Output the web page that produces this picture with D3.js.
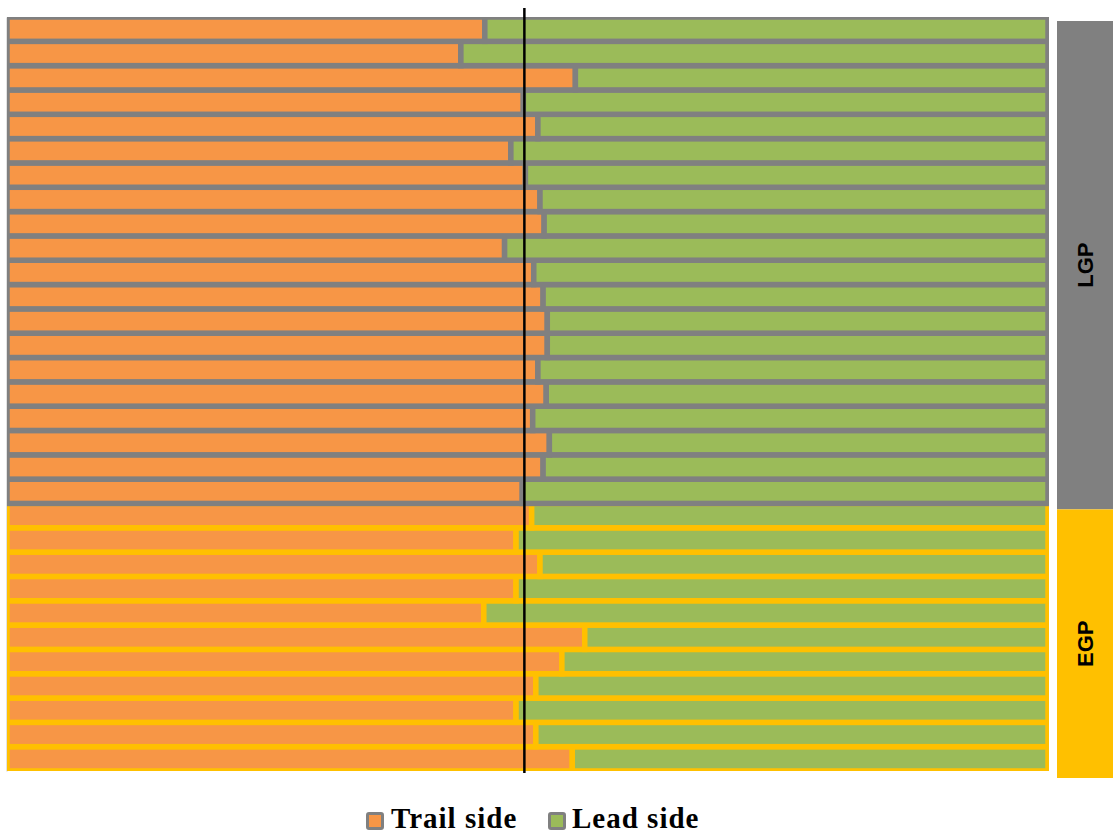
<!DOCTYPE html>
<html>
<head>
<meta charset="utf-8">
<script src="https://cdn.jsdelivr.net/npm/d3@7"></script>
<style>
  html, body { margin: 0; padding: 0; background: #ffffff; }
  svg { display: block; }
</style>
</head>
<body>
<script>
// ---- data ----
const groups = ["LGP", "EGP"];
const groupCounts = [20, 11];
const rowGroup = [
  "LGP","LGP","LGP","LGP","LGP","LGP","LGP","LGP","LGP","LGP",
  "LGP","LGP","LGP","LGP","LGP","LGP","LGP","LGP","LGP","LGP",
  "EGP","EGP","EGP","EGP","EGP","EGP","EGP","EGP","EGP","EGP","EGP"
];
const trailSide = [
  45.9, 43.6, 54.6, 49.6, 51.0, 48.4, 49.8, 51.2, 51.6, 47.8,
  50.6, 51.5, 51.9, 51.9, 51.0, 51.8, 50.5, 52.1, 51.5, 49.5,
  50.4, 48.9, 51.2, 48.9, 45.8, 55.5, 53.3, 50.8, 48.9, 50.8, 54.3
];
const leadSide = [
  54.1, 56.4, 45.4, 50.4, 49.0, 51.6, 50.2, 48.8, 48.4, 52.2,
  49.4, 48.5, 48.1, 48.1, 49.0, 48.2, 49.5, 47.9, 48.5, 50.5,
  49.6, 51.1, 48.8, 51.1, 54.2, 44.5, 46.7, 49.2, 51.1, 49.2, 45.7
];
const seriesNames = ["Trail side", "Lead side"];
const refLineValue = 49.7;

// ---- styles ----
const W = 1113, H = 835;
const fillColors = { "Trail side": "#F79646", "Lead side": "#9BBB59" };
const groupColors = { "LGP": "#808080", "EGP": "#FFC000" };

const svg = d3.select("body").append("svg").attr("width", W).attr("height", H);

const rows = d3.range(trailSide.length);
const x = d3.scaleLinear().domain([0, 100]).range([7, 1048]);
const y = d3.scaleBand().domain(rows).range([17, 771]).padding(0);

// clip to plot area
svg.append("defs").append("clipPath").attr("id", "plotclip")
  .append("rect").attr("x", x(0)).attr("y", y.range()[0])
  .attr("width", x(100) - x(0) + 1).attr("height", y.range()[1] - y.range()[0]);

// category axis line
const axis = svg.append("g").attr("transform", `translate(${x(0) - 0.5},0)`)
  .call(d3.axisLeft(y).tickSize(0).tickFormat(""));
axis.select(".domain").attr("stroke", "#D9D9D9").attr("stroke-width", 1.5);

const stackData = rows.map(i => ({ i, "Trail side": trailSide[i], "Lead side": leadSide[i] }));
const stacked = d3.stack().keys(seriesNames)(stackData);

// flatten segments, paint bottom rows first so upper rows' borders sit on top
const segments = [];
stacked.forEach(s => s.forEach(d => segments.push({ key: s.key, x0: d[0], x1: d[1], i: d.data.i })));
segments.sort((a, b) => d3.descending(a.i, b.i));

const plot = svg.append("g").attr("clip-path", "url(#plotclip)");
plot.selectAll("rect").data(segments).join("rect")
  .attr("x", d => x(d.x0))
  .attr("width", d => x(d.x1) - x(d.x0))
  .attr("y", d => y(d.i))
  .attr("height", y.bandwidth())
  .attr("fill", d => fillColors[d.key])
  .attr("stroke", d => groupColors[rowGroup[d.i]])
  .attr("stroke-width", 5.5);

// reference line
svg.append("line")
  .attr("x1", x(refLineValue)).attr("x2", x(refLineValue))
  .attr("y1", 8).attr("y2", 773)
  .attr("stroke", "#000").attr("stroke-width", 2.5);

// side group band
const total = d3.sum(groupCounts);
const yb = d3.scaleLinear().domain([0, total]).range([21, 778]);
let acc = 0;
const bands = groups.map((g, k) => { const b = { g, s: acc, e: acc + groupCounts[k] }; acc += groupCounts[k]; return b; });
const bandG = svg.append("g");
bandG.selectAll("rect").data(bands).join("rect")
  .attr("x", 1057).attr("width", 60)
  .attr("y", d => yb(d.s)).attr("height", d => yb(d.e) - yb(d.s))
  .attr("fill", d => groupColors[d.g]);
bandG.selectAll("text").data(bands).join("text")
  .attr("transform", d => `translate(1085,${(yb(d.s) + yb(d.e)) / 2}) rotate(-90)`)
  .attr("text-anchor", "middle").attr("dominant-baseline", "central")
  .attr("font-family", "Liberation Sans, Arial, sans-serif")
  .attr("font-weight", "bold").attr("font-size", 22)
  .attr("fill", "#000")
  .text(d => d.g);

// legend
const legend = svg.append("g");
const legendItems = [
  { name: seriesNames[0], mx: 366, tx: 391 },
  { name: seriesNames[1], mx: 548, tx: 572 }
];
legendItems.forEach(it => {
  legend.append("rect").attr("x", it.mx + 1.5).attr("y", 813.5).attr("width", 15).attr("height", 15)
    .attr("fill", fillColors[it.name]).attr("stroke", "#808080").attr("stroke-width", 3).attr("rx", 1.5);
  legend.append("text").attr("x", it.tx).attr("y", 828)
    .attr("font-family", "Liberation Serif, 'Times New Roman', serif")
    .attr("font-weight", "bold").attr("font-size", 29).attr("letter-spacing", 1)
    .attr("fill", "#000")
    .text(it.name);
});
</script>
</body>
</html>
